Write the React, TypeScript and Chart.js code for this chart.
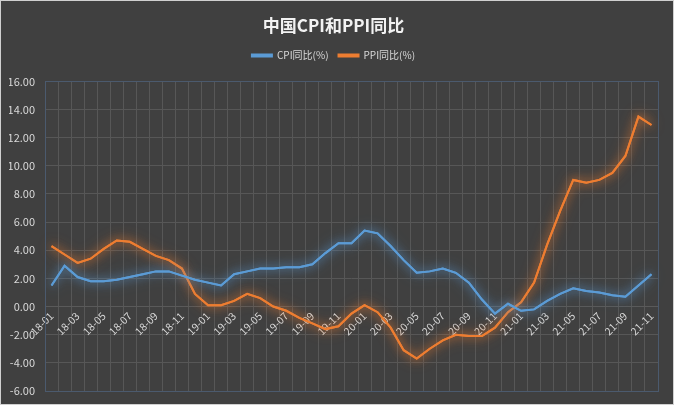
import React, { useEffect, useRef } from "react";
import { Chart, registerables } from "chart.js";

Chart.register(...registerables);

const months: string[] = [
  "18-01","18-02","18-03","18-04","18-05","18-06","18-07","18-08","18-09","18-10","18-11","18-12",
  "19-01","19-02","19-03","19-04","19-05","19-06","19-07","19-08","19-09","19-10","19-11","19-12",
  "20-01","20-02","20-03","20-04","20-05","20-06","20-07","20-08","20-09","20-10","20-11","20-12",
  "21-01","21-02","21-03","21-04","21-05","21-06","21-07","21-08","21-09","21-10","21-11",
];

const cpi: number[] = [
  1.5, 2.9, 2.1, 1.8, 1.8, 1.9, 2.1, 2.3, 2.5, 2.5, 2.2, 1.9,
  1.7, 1.5, 2.3, 2.5, 2.7, 2.7, 2.8, 2.8, 3.0, 3.8, 4.5, 4.5,
  5.4, 5.2, 4.3, 3.3, 2.4, 2.5, 2.7, 2.4, 1.7, 0.5, -0.5, 0.2,
  -0.3, -0.2, 0.4, 0.9, 1.3, 1.1, 1.0, 0.8, 0.7, 1.5, 2.3,
];

const ppi: number[] = [
  4.3, 3.7, 3.1, 3.4, 4.1, 4.7, 4.6, 4.1, 3.6, 3.3, 2.7, 0.9,
  0.1, 0.1, 0.4, 0.9, 0.6, 0.0, -0.3, -0.8, -1.2, -1.6, -1.4, -0.5,
  0.1, -0.4, -1.5, -3.1, -3.7, -3.0, -2.4, -2.0, -2.1, -2.1, -1.5, -0.4,
  0.3, 1.7, 4.4, 6.8, 9.0, 8.8, 9.0, 9.5, 10.7, 13.5, 12.9,
];

const seriesNames = ["CPI同比(%)", "PPI同比(%)"];
const titleText = "中国CPI和PPI同比";
const yMin = -6;
const yMax = 16;
const yStep = 2;

const FONT = "'Noto Sans CJK SC', 'Open Sans', sans-serif";

const glowPlugin = {
  id: "glow",
  beforeDatasetDraw(chart: any, args: any) {
    const ctx = chart.ctx;
    const ds = chart.data.datasets[args.index];
    ctx.save();
    ctx.shadowColor = ds.glowColor;
    ctx.shadowBlur = 14;
    args.meta.dataset.draw(ctx, chart.chartArea);
    ctx.restore();
    ctx.save();
    ctx.shadowColor = ds.glowColor;
    ctx.shadowBlur = 8;
  },
  afterDatasetDraw(chart: any) {
    chart.ctx.restore();
  },
};

const legendSpacePlugin = {
  id: "legendSpace",
  start(chart: any) {
    const lg = chart.legend;
    if (lg && !lg.__patched) {
      const orig = lg.fit.bind(lg);
      lg.fit = function () {
        orig();
        this.height += 11;
      };
      lg.__patched = true;
    }
  },
};

const bgPlugin = {
  id: "bgAndBorder",
  beforeDraw(chart: any) {
    const { ctx, width, height } = chart;
    ctx.save();
    ctx.fillStyle = "#404040";
    ctx.fillRect(0, 0, width, height);
    ctx.restore();
  },
  afterDraw(chart: any) {
    const { ctx, chartArea } = chart;
    ctx.save();
    ctx.strokeStyle = "#4b5a6e";
    ctx.lineWidth = 1;
    ctx.strokeRect(
      Math.round(chartArea.left) + 0.5,
      Math.round(chartArea.top) + 0.5,
      Math.round(chartArea.right - chartArea.left),
      Math.round(chartArea.bottom - chartArea.top)
    );
    ctx.restore();
  },
};

export default function App() {
  const ref = useRef<HTMLCanvasElement | null>(null);
  useEffect(() => {
    if (!ref.current) return;
    const chart = new Chart(ref.current, {
      type: "line",
      data: {
        labels: months,
        datasets: [
          {
            label: seriesNames[0],
            data: cpi,
            borderColor: "#5b9bd5",
            backgroundColor: "#5b9bd5",
            borderWidth: 2,
            pointRadius: 0,
            tension: 0,
            glowColor: "rgba(91,155,213,0.85)",
          } as any,
          {
            label: seriesNames[1],
            data: ppi,
            borderColor: "#ed7d31",
            backgroundColor: "#ed7d31",
            borderWidth: 2,
            pointRadius: 0,
            tension: 0,
            glowColor: "rgba(237,125,49,0.85)",
          } as any,
        ],
      },
      options: {
        animation: false,
        responsive: false,
        maintainAspectRatio: false,
        layout: { padding: { left: 8, right: 15, top: 4, bottom: 13 } },
        plugins: {
          title: {
            display: true,
            text: titleText,
            color: "#f2f2f2",
            font: { family: FONT, size: 17, weight: "bold" },
            padding: { top: 10, bottom: 5 },
          },
          legend: {
            display: true,
            labels: {
              color: "#d9d9d9",
              font: { family: FONT, size: 10 },
              boxWidth: 20,
              boxHeight: 2,
              padding: 10,
            },
          },
          tooltip: { enabled: false },
        },
        scales: {
          x: {
            type: "category",
            position: { y: 0 } as any,
            offset: true,
            afterFit(scale: any) {
              scale.height = 0;
              scale.paddingLeft = 0;
              scale.paddingRight = 0;
            },
            grid: {
              display: true,
              offset: true,
              color: "#575757",
              drawTicks: false,
            },
            border: { display: true, color: "#5a5a5a" },
            ticks: {
              autoSkip: false,
              minRotation: 45,
              maxRotation: 45,
              padding: 3,
              color: "#d9d9d9",
              font: { family: FONT, size: 10.5 },
              callback: function (_v: any, i: number) {
                return i % 2 === 0 ? months[i] : "";
              },
            },
          },
          y: {
            min: yMin,
            max: yMax,
            afterFit(scale: any) {
              scale.width = 36;
              scale.paddingTop = 0;
              scale.paddingBottom = 0;
            },
            grid: { color: "#575757", drawTicks: false },
            border: { display: false },
            ticks: {
              stepSize: yStep,
              padding: 10,
              color: "#d9d9d9",
              font: { family: FONT, size: 11 },
              callback: (v: any) => Number(v).toFixed(2),
            },
          },
        },
      } as any,
      plugins: [bgPlugin, glowPlugin, legendSpacePlugin],
    });
    return () => chart.destroy();
  }, []);

  return (
    <div
      style={{
        position: "fixed",
        left: 0,
        top: 0,
        width: 674,
        height: 405,
        boxSizing: "border-box",
        border: "1px solid #d0d0d0",
        background: "#404040",
      }}
    >
      <canvas ref={ref} width={672} height={403} style={{ display: "block" }} />
    </div>
  );
}
